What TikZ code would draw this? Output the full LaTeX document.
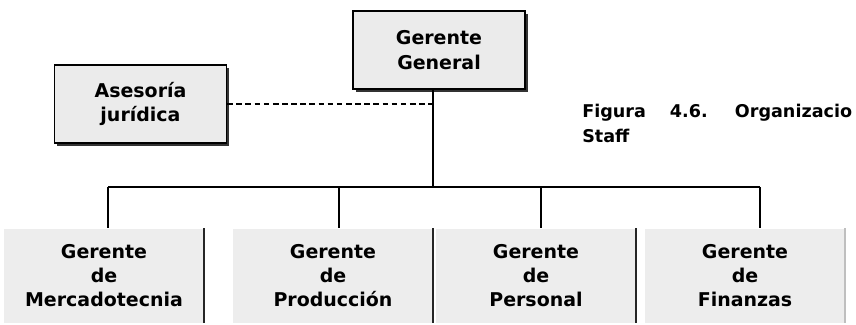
\documentclass[tikz,border=0pt]{standalone}
\usepackage{fontspec}
\setmainfont{DejaVu Sans}
\usetikzlibrary{positioning,shadows}

\tikzset{
    jefe/.style = {draw=black, line width=1pt, fill=black!8, minimum width=4.3cm, minimum height=1.95cm, align=center, inner sep=0pt, font=\bfseries\fontsize{13.5}{17.7}\selectfont, drop shadow={shadow xshift=2pt, shadow yshift=-2pt, fill=black!80, opacity=1}},
    area/.style = {fill=black!7, minimum width=5cm, minimum height=2.35cm, align=center, inner sep=0pt, font=\bfseries\fontsize{13.5}{17}\selectfont},
    borde/.style = {black!85, line width=1.3pt},
    linea/.style = {black, line width=1pt},
    titulo/.style = {anchor=base west, inner sep=0pt, font=\bfseries\fontsize{12.5}{15}\selectfont},
}

\begin{document}
\begin{tikzpicture}
    % Bildgroesse
        \useasboundingbox (0, 0) rectangle (21.4, 8.1);
        \clip (0, 0) rectangle (21.4, 8.1);

    % Gerencia y staff
        \node[jefe] (gg) at (10.975, 6.85) {Gerente\\General};
        \node[jefe] (aj) at (3.5125, 5.5) {Asesoría\\jurídica};

    % Gerencias
        \node[area] (b1) at (2.6, 1.2125) {Gerente\\de\\Mercadotecnia};
        \node[area] (b2) at (8.325, 1.2125) {Gerente\\de\\Producción};
        \node[area] (b3) at (13.4, 1.2125) {Gerente\\de\\Personal};
        \node[area] (b4) at (18.625, 1.2125) {Gerente\\de\\Finanzas};
        \draw[borde] (b1.north east) -- (b1.south east);
        \draw[borde] (b2.north east) -- (b2.south east);
        \draw[borde] (b3.north east) -- (b3.south east);
        \draw[borde, black!25] (b4.north east) -- (b4.south east);

    % Verbindungen
        \coordinate (hub) at (10.825, 3.425);
        \coordinate (t1) at (2.7, 3.425);
        \coordinate (t2) at (8.475, 3.425);
        \coordinate (t3) at (13.525, 3.425);
        \coordinate (t4) at (19, 3.425);
        \draw[linea] (gg.south -| hub) -- (hub);
        \draw[linea] (t1) -- (t4);
        \draw[linea] (t1) -- (t1 |- b1.north);
        \draw[linea] (t2) -- (t2 |- b2.north);
        \draw[linea] (t3) -- (t3 |- b3.north);
        \draw[linea] (t4) -- (t4 |- b4.north);
        \draw[linea, dash pattern=on 4pt off 2.5pt] (aj.east) -- (aj.east -| hub);

    % Bezeichnung
        \node[titulo] (cap1) at (14.55, 5.175) {Figura\hspace{0.6cm}4.6.\hspace{0.68cm}Organizacio};
        \node[titulo] (cap2) at ([yshift=-0.625cm]cap1.base west) {Staff};
\end{tikzpicture}
\end{document}
